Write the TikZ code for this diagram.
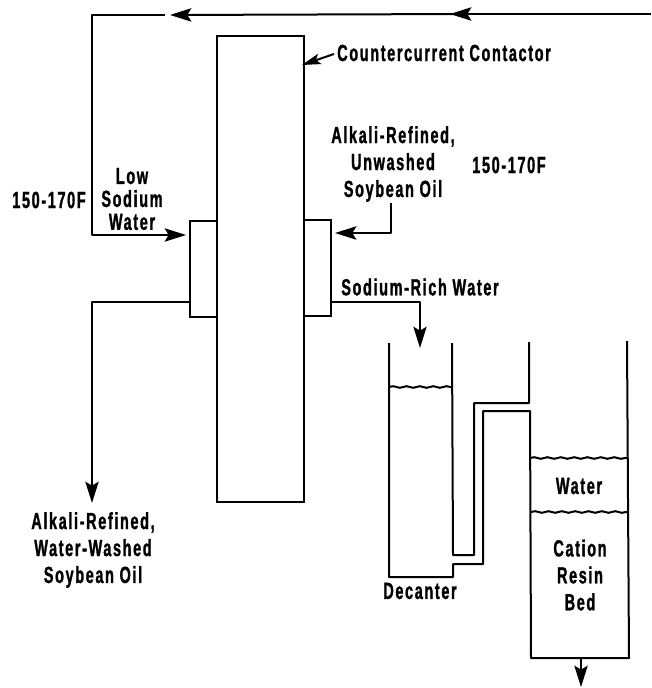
\documentclass[tikz,border=0pt]{standalone}
\usepackage{fontspec}
\usetikzlibrary{arrows.meta,decorations.pathmorphing}
\newfontfamily\plantfont[FakeStretch=0.62,LetterSpace=7,FakeBold=1.2]{Liberation Sans}
\tikzset{
  vessel/.style={draw,line width=1.5pt,fill=white,inner sep=0pt,anchor=north west},
  wall/.style={line width=1.5pt,line join=round},
  flow/.style={line width=1.5pt,line join=round,-{Stealth[length=16pt,width=10pt,inset=3pt]}},
  liquid/.style={line width=1.5pt,decorate,decoration={snake,amplitude=0.6pt,segment length=10pt}},
  plantlabel/.style={font=\plantfont\bfseries\fontsize{17.5}{20.2}\selectfont,align=center,inner sep=0pt}
}
\begin{document}
\begin{tikzpicture}[x=0.75pt,y=-0.75pt]

  % Explicit bounding box, same proportions as the page
  \useasboundingbox (0,0) rectangle (651,688);

  % ---------------- Contactor ----------------
  \node[vessel,minimum width=65.25pt,minimum height=349.5pt] (contactor) at (216,35) {};
  \node[vessel,minimum width=20.6pt,minimum height=72pt] (washin) at (189,220) {};
  \node[vessel,minimum width=20.6pt,minimum height=72pt] (washout) at (303,219) {};

  % labels
  \node[plantlabel,anchor=west] (contactorlabel) at (337,53) {Countercurrent Contactor};
  \node[plantlabel] (feedlabel) at (393,164) {Alkali-Refined,\\Unwashed\\Soybean Oil};
  \node[plantlabel] (feedtemp) at (509,165) {150-170F};
  \node[plantlabel] (lowlabel) at (132,199) {Low\\[-3pt]Sodium\\[-3pt]Water};
  \node[plantlabel] (lowtemp) at (49,200) {150-170F};
  \node[plantlabel] (richlabel) at (420,287) {Sodium-Rich Water};
  \node[plantlabel] (productlabel) at (93,550) {Alkali-Refined,\\Water-Washed\\Soybean Oil};
  \node[plantlabel] (decanterlabel) at (420,591) {Decanter};
  \node[plantlabel] (waterlabel) at (579,486) {Water};
  \node[plantlabel] (bedlabel) at (580,575) {Cation\\Resin\\Bed};

  % ---------------- Water return line ----------------
  \coordinate (returnin) at (651,14);
  \coordinate (returnmid) at (450,14);
  \coordinate (returngap) at (466,14);
  \coordinate (returntip) at (170,15);
  \coordinate (returnend) at (165,15);
  \coordinate (returncorner) at (92,15);
  \coordinate (lowin) at (186,235);
  \draw[flow] (returnin) -- (returnmid);
  \draw[flow] (returngap) -- (returntip);
  \draw[flow] (returnend) -- (returncorner) |- (lowin);

  % ---------------- Other lines at the contactor ----------------
  \coordinate (contactortip) at (302,65);
  \draw[line width=1.5pt,-{Stealth[length=14pt,width=8pt,inset=3pt]}] (contactorlabel.west) ++(-3,1) -- (contactortip);
  \coordinate (feedcorner) at (391,233);
  \coordinate (feedtip) at (335,233);
  \draw[flow] (391,203) -- (feedcorner) -- (feedtip);
  \coordinate (producttip) at (92,503);
  \draw[flow] (washin.west |- 0,302) -| (producttip);
  \coordinate (richtip) at (420,348);
  \draw[flow] (washout.east |- 0,302) -| (richtip);

  % ---------------- Decanter and resin bed ----------------
  \draw[wall] (389,343) -- (389,577) -- (453,577) -- (453,564) -- (483,564)
    -- (483,411) -- (530,411) -- (531,658) -- (629,658) -- (627,341);
  \draw[wall] (452,343) -- (453,555) -- (474,555) -- (474,403) -- (529,403) -- (529,342);

  % liquid levels
  \draw[liquid] (389,387) -- (452,387);
  \draw[liquid] (530,458) -- (627,458);
  \draw[liquid] (531,512) -- (628,512);

  % bed outlet
  \coordinate (bedout) at (581,658);
  \coordinate (bedtip) at (581,687);
  \draw[flow] (bedout) -- (bedtip);

\end{tikzpicture}
\end{document}
